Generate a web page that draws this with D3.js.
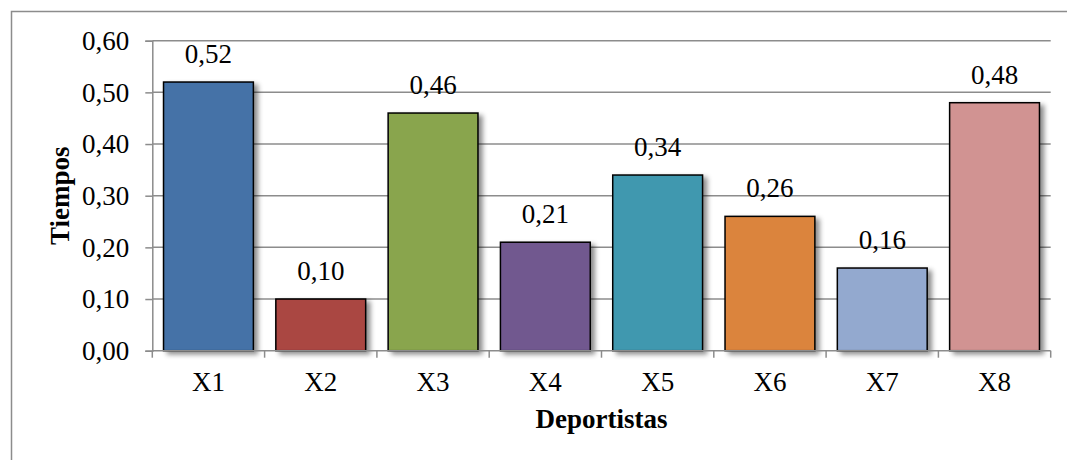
<!DOCTYPE html>
<html>
<head>
<meta charset="utf-8">
<script src="https://cdn.jsdelivr.net/npm/d3@7/dist/d3.min.js"></script>
<style>
  html, body { margin: 0; padding: 0; background: #fff; }
  svg { display: block; }
</style>
</head>
<body>
<svg id="chart" width="1067" height="460"></svg>
<script>
// Tiempos por deportista
const categories = ["X1", "X2", "X3", "X4", "X5", "X6", "X7", "X8"];
const values = [0.52, 0.10, 0.46, 0.21, 0.34, 0.26, 0.16, 0.48];
const barColors = ["#4572A7", "#AA4643", "#89A54E", "#71588F", "#4198AF", "#DB843D", "#93A9CF", "#D19392"];
const yTicks = [0, 0.1, 0.2, 0.3, 0.4, 0.5, 0.6];
const yTitle = "Tiempos";
const xTitle = "Deportistas";

const FONT = "'Liberation Serif', 'Times New Roman', Times, 'DejaVu Serif', serif";
const FS = 27;

const svg = d3.select("#chart");
const W = 1067, H = 460;
const plot = { left: 152.3, right: 1050.7, top: 40.7, bottom: 350.7 };
const fmt = v => d3.format(".2f")(v).replace(".", ",");

// Outer chart frame
svg.append("rect")
  .attr("x", 11.5).attr("y", 11.5)
  .attr("width", W + 10).attr("height", H + 10)
  .attr("fill", "#fff").attr("stroke", "#8c8c8c").attr("stroke-width", 1.5);

// Soft drop shadow for bars
const defs = svg.append("defs");
const f = defs.append("filter").attr("id", "shadow")
  .attr("x", "-10%").attr("y", "-10%").attr("width", "130%").attr("height", "130%");
f.append("feDropShadow")
  .attr("dx", 4).attr("dy", 3).attr("stdDeviation", 2.5)
  .attr("flood-color", "#000").attr("flood-opacity", 0.45);

const x = d3.scaleBand().domain(categories)
  .range([plot.left, plot.right]).paddingInner(0.2).paddingOuter(0.1);
const y = d3.scaleLinear().domain([0, 0.6]).range([plot.bottom, plot.top]);

// Gridlines
svg.append("g").selectAll("line").data(yTicks.filter(d => d > 0)).join("line")
  .attr("x1", plot.left).attr("x2", plot.right)
  .attr("y1", d => y(d)).attr("y2", d => y(d))
  .attr("stroke", "#8c8c8c").attr("stroke-width", 1.5);

// Bars
svg.append("g").selectAll("rect").data(values).join("rect")
  .attr("x", (d, i) => x(categories[i]))
  .attr("y", d => y(d))
  .attr("width", x.bandwidth())
  .attr("height", d => y(0) - y(d))
  .attr("fill", (d, i) => barColors[i])
  .attr("stroke", "#000").attr("stroke-width", 1.5)
  .attr("filter", "url(#shadow)");

// Value labels
svg.append("g").selectAll("text").data(values).join("text")
  .attr("x", (d, i) => x(categories[i]) + x.bandwidth() / 2)
  .attr("y", d => y(d) - 19)
  .attr("text-anchor", "middle")
  .style("font-family", FONT).style("font-size", FS + "px")
  .text(d => fmt(d));

// Y axis
const yAxis = d3.axisLeft(y).tickValues(yTicks).tickFormat(fmt).tickSize(7).tickPadding(16);
const gy = svg.append("g").attr("transform", `translate(${plot.left},0)`).call(yAxis);
gy.select(".domain").attr("stroke", "#8c8c8c").attr("stroke-width", 1.5);
gy.selectAll(".tick line").attr("stroke", "#8c8c8c").attr("stroke-width", 1.5);
gy.selectAll(".tick text")
  .style("font-family", FONT).style("font-size", FS + "px").attr("fill", "#000");

// X axis: ticks at band boundaries
const gx = svg.append("g").attr("transform", `translate(0,${plot.bottom})`);
gx.append("line").attr("x1", plot.left).attr("x2", plot.right)
  .attr("stroke", "#8c8c8c").attr("stroke-width", 1.5);
const step = (plot.right - plot.left) / categories.length;
gx.selectAll("line.tk").data(d3.range(categories.length + 1)).join("line")
  .attr("class", "tk")
  .attr("x1", i => plot.left + i * step).attr("x2", i => plot.left + i * step)
  .attr("y1", 0).attr("y2", 7)
  .attr("stroke", "#8c8c8c").attr("stroke-width", 1.5);
gx.selectAll("text").data(categories).join("text")
  .attr("x", d => x(d) + x.bandwidth() / 2)
  .attr("y", 40)
  .attr("text-anchor", "middle")
  .style("font-family", FONT).style("font-size", FS + "px")
  .text(d => d);

// Axis titles
svg.append("text")
  .attr("x", (plot.left + plot.right) / 2).attr("y", 428)
  .attr("text-anchor", "middle")
  .style("font-family", FONT).style("font-size", FS + "px").style("font-weight", "bold")
  .text(xTitle);
svg.append("text")
  .attr("transform", `translate(69,${(plot.top + plot.bottom) / 2}) rotate(-90)`)
  .attr("text-anchor", "middle")
  .style("font-family", FONT).style("font-size", FS + "px").style("font-weight", "bold")
  .text(yTitle);
</script>
</body>
</html>
